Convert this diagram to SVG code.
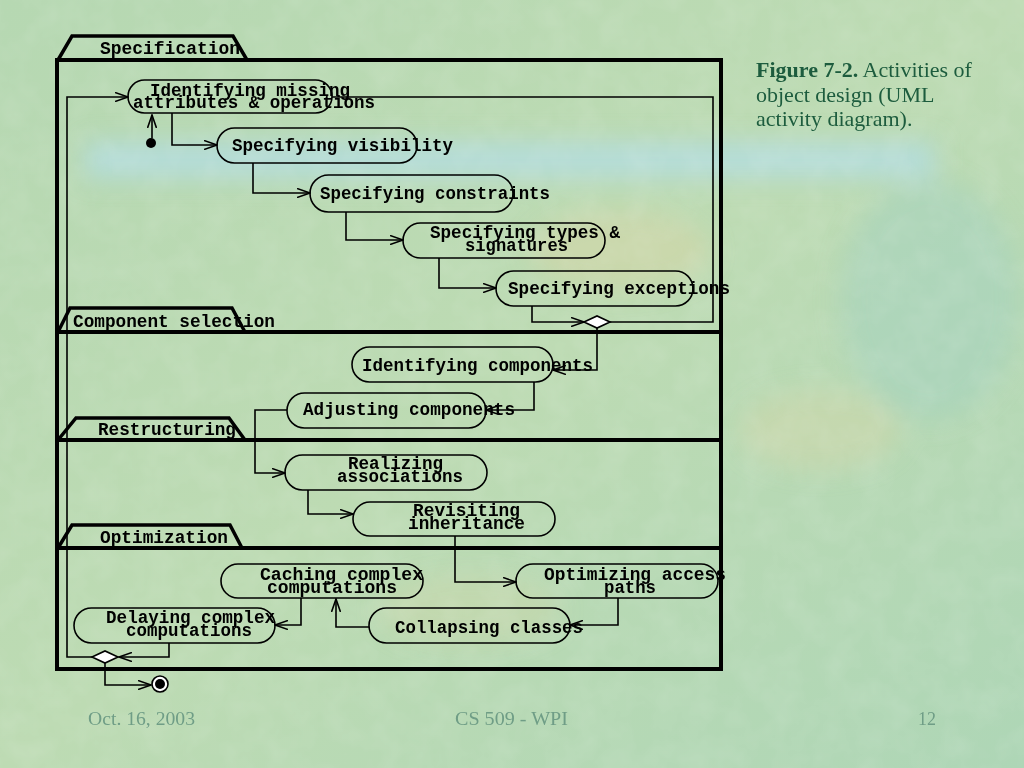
<svg xmlns="http://www.w3.org/2000/svg" width="1024" height="768" viewBox="0 0 1024 768">
<defs>
<linearGradient id="bg" x1="0" y1="0" x2="1" y2="1">
<stop offset="0" stop-color="#b6d8b2"/>
<stop offset="0.5" stop-color="#bddbb3"/>
<stop offset="1" stop-color="#aed6b6"/>
</linearGradient>
<filter id="blur" x="-20%" y="-50%" width="140%" height="200%"><feGaussianBlur stdDeviation="12"/></filter>
<filter id="tex" x="0" y="0" width="100%" height="100%">
<feTurbulence type="fractalNoise" baseFrequency="0.035" numOctaves="3" seed="4" result="n"/>
<feColorMatrix in="n" type="matrix" values="0 0 0 0 1  0 0 0 0 1  0 0 0 0 1  0 0 0 0.5 -0.15"/>
</filter>
<marker id="arr" viewBox="0 0 14 10" refX="13" refY="5" markerWidth="14" markerHeight="10" markerUnits="userSpaceOnUse" orient="auto">
<path d="M0,0.5 L13,5 L0,9.5" fill="none" stroke="#000" stroke-width="1.6"/>
</marker>
<style>
.frame{fill:none;stroke:#000;stroke-width:4}
.tab{fill:none;stroke:#000;stroke-width:3.5;stroke-linejoin:miter}
.node{fill:none;stroke:#000;stroke-width:1.6}
.t{font-family:"Liberation Mono","DejaVu Sans Mono",monospace;font-weight:bold;font-size:18px;fill:#000}
.c{fill:none;stroke:#000;stroke-width:1.6}
.ca{fill:none;stroke:#000;stroke-width:1.6;marker-end:url(#arr)}
.dia{fill:#fff;stroke:#000;stroke-width:1.6}
.cap{font-family:"Liberation Serif","Times New Roman",serif;font-size:22px;fill:#1d5c3e}
.foot{font-family:"Liberation Serif","Times New Roman",serif;font-size:19px;fill:#6f9d86}
</style>
</defs>
<rect width="1024" height="768" fill="url(#bg)"/>
<g filter="url(#blur)">
<rect x="85" y="142" width="850" height="36" fill="#b3dde6" opacity="0.75"/>
<ellipse cx="620" cy="250" rx="90" ry="40" fill="#d8d6a6" opacity="0.5"/>
<ellipse cx="820" cy="430" rx="80" ry="40" fill="#d4d8a8" opacity="0.45"/>
<ellipse cx="470" cy="610" rx="90" ry="35" fill="#d2d6a6" opacity="0.35"/>
<ellipse cx="930" cy="300" rx="90" ry="120" fill="#a4d2bf" opacity="0.5"/>
</g>
<rect width="1024" height="768" filter="url(#tex)" opacity="0.35"/>

<g id="partitions">
<rect class="frame" x="57" y="60" width="664" height="609"/>
<line class="frame" x1="57" y1="332" x2="721" y2="332"/>
<line class="frame" x1="57" y1="440" x2="721" y2="440"/>
<line class="frame" x1="57" y1="548" x2="721" y2="548"/>
<path class="tab" d="M58,60 L72,36 L233,36 L247,60"/>
<path class="tab" d="M58,332 L70,308 L232,308 L245,332"/>
<path class="tab" d="M58,440 L76,418 L229,418 L245,440"/>
<path class="tab" d="M58,548 L72,525 L230,525 L242,548"/>
<text class="t" x="100" y="54" textLength="140" lengthAdjust="spacingAndGlyphs">Specification</text>
<text class="t" x="73" y="327" textLength="202" lengthAdjust="spacingAndGlyphs">Component selection</text>
<text class="t" x="98" y="435" textLength="138" lengthAdjust="spacingAndGlyphs">Restructuring</text>
<text class="t" x="100" y="543" textLength="128" lengthAdjust="spacingAndGlyphs">Optimization</text>
</g>

<g id="connectors">
<line class="ca" x1="152" y1="138" x2="152" y2="115"/>
<path class="ca" d="M172,113 V145 H217"/>
<path class="ca" d="M253,163 V193 H310"/>
<path class="ca" d="M346,212 V240 H403"/>
<path class="ca" d="M439,258 V288 H496"/>
<path class="ca" d="M532,306 V322 H584"/>
<path class="c" d="M610,322 H713 V97 H332"/>
<path class="ca" d="M597,328 V370 H553"/>
<path class="ca" d="M534,382 V410 H486"/>
<path class="ca" d="M287,410 H255 V473 H285"/>
<path class="ca" d="M308,490 V514 H353"/>
<path class="ca" d="M455,536 V582 H516"/>
<path class="ca" d="M618,598 V625 H570"/>
<path class="ca" d="M369,627 H336 V599"/>
<path class="ca" d="M301,598 V625 H275"/>
<path class="ca" d="M169,643 V657 H119"/>
<path class="ca" d="M92,657 H67 V97 H128"/>
<path class="ca" d="M105,663 V685 H151"/>
</g>

<g id="initial"><circle cx="151" cy="143" r="5" fill="#000"/></g>
<g id="final"><circle cx="160" cy="684" r="8" fill="#fff" stroke="#000" stroke-width="1.6"/><circle cx="160" cy="684" r="5" fill="#000"/></g>
<g id="decision1"><path class="dia" d="M584,322 L597,316 L610,322 L597,328 Z"/></g>
<g id="decision2"><path class="dia" d="M92,657 L105,651 L118,657 L105,663 Z"/></g>

<g id="n1"><rect class="node" x="128" y="80" width="204" height="33" rx="16.5"/>
<text class="t" x="150" y="96" textLength="200" lengthAdjust="spacingAndGlyphs">Identifying missing</text>
<text class="t" x="133" y="108" textLength="242" lengthAdjust="spacingAndGlyphs">attributes &amp; operations</text></g>
<g id="n2"><rect class="node" x="217" y="128" width="200" height="35" rx="17.5"/>
<text class="t" x="232" y="151" textLength="221" lengthAdjust="spacingAndGlyphs">Specifying visibility</text></g>
<g id="n3"><rect class="node" x="310" y="175" width="203" height="37" rx="18.5"/>
<text class="t" x="320" y="199" textLength="230" lengthAdjust="spacingAndGlyphs">Specifying constraints</text></g>
<g id="n4"><rect class="node" x="403" y="223" width="202" height="35" rx="17.5"/>
<text class="t" x="430" y="238" textLength="190" lengthAdjust="spacingAndGlyphs">Specifying types &amp;</text>
<text class="t" x="465" y="251" textLength="103" lengthAdjust="spacingAndGlyphs">signatures</text></g>
<g id="n5"><rect class="node" x="496" y="271" width="197" height="35" rx="17.5"/>
<text class="t" x="508" y="294" textLength="222" lengthAdjust="spacingAndGlyphs">Specifying exceptions</text></g>
<g id="n6"><rect class="node" x="352" y="347" width="201" height="35" rx="17.5"/>
<text class="t" x="362" y="371" textLength="231" lengthAdjust="spacingAndGlyphs">Identifying components</text></g>
<g id="n7"><rect class="node" x="287" y="393" width="199" height="35" rx="17.5"/>
<text class="t" x="303" y="415" textLength="212" lengthAdjust="spacingAndGlyphs">Adjusting components</text></g>
<g id="n8"><rect class="node" x="285" y="455" width="202" height="35" rx="17.5"/>
<text class="t" x="348" y="469" textLength="95" lengthAdjust="spacingAndGlyphs">Realizing</text>
<text class="t" x="337" y="482" textLength="126" lengthAdjust="spacingAndGlyphs">associations</text></g>
<g id="n9"><rect class="node" x="353" y="502" width="202" height="34" rx="17"/>
<text class="t" x="413" y="516" textLength="107" lengthAdjust="spacingAndGlyphs">Revisiting</text>
<text class="t" x="408" y="529" textLength="117" lengthAdjust="spacingAndGlyphs">inheritance</text></g>
<g id="n10"><rect class="node" x="221" y="564" width="202" height="34" rx="17"/>
<text class="t" x="260" y="580" textLength="163" lengthAdjust="spacingAndGlyphs">Caching complex</text>
<text class="t" x="267" y="593" textLength="130" lengthAdjust="spacingAndGlyphs">computations</text></g>
<g id="n11"><rect class="node" x="516" y="564" width="202" height="34" rx="17"/>
<text class="t" x="544" y="580" textLength="182" lengthAdjust="spacingAndGlyphs">Optimizing access</text>
<text class="t" x="604" y="593" textLength="52" lengthAdjust="spacingAndGlyphs">paths</text></g>
<g id="n12"><rect class="node" x="369" y="608" width="201" height="35" rx="17.5"/>
<text class="t" x="395" y="633" textLength="188" lengthAdjust="spacingAndGlyphs">Collapsing classes</text></g>
<g id="n13"><rect class="node" x="74" y="608" width="201" height="35" rx="17.5"/>
<text class="t" x="106" y="623" textLength="169" lengthAdjust="spacingAndGlyphs">Delaying complex</text>
<text class="t" x="126" y="636" textLength="126" lengthAdjust="spacingAndGlyphs">computations</text></g>

<g id="caption">
<text class="cap" x="756" y="77"><tspan font-weight="bold">Figure 7-2.</tspan> Activities of</text>
<text class="cap" x="756" y="102">object design (UML</text>
<text class="cap" x="756" y="126">activity diagram).</text>
</g>
<g id="footer">
<text class="foot" x="88" y="725" textLength="107" lengthAdjust="spacingAndGlyphs">Oct. 16, 2003</text>
<text class="foot" x="455" y="725" textLength="113" lengthAdjust="spacingAndGlyphs">CS 509 - WPI</text>
<text class="foot" x="918" y="725" textLength="18" lengthAdjust="spacingAndGlyphs">12</text>
</g>
</svg>
